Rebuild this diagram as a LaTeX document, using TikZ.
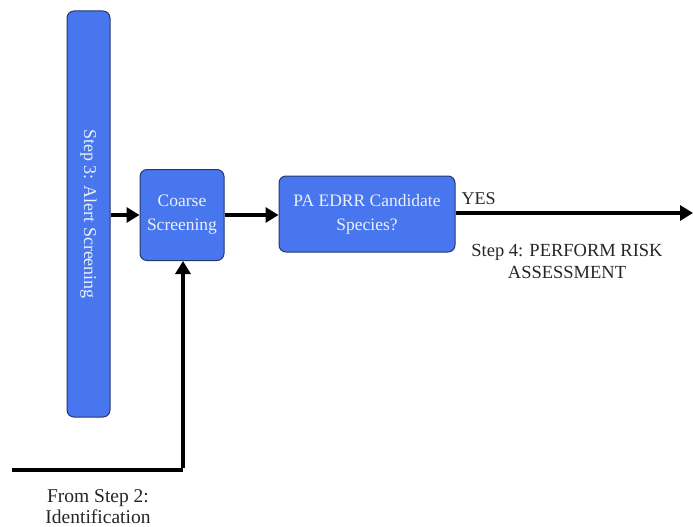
\documentclass[tikz,border=0pt]{standalone}
\usepackage{fontspec}
\setmainfont{Liberation Serif}
\usetikzlibrary{arrows.meta}
\definecolor{boxblue}{RGB}{72,118,238}
\definecolor{boxedge}{RGB}{40,55,110}
\definecolor{boxtext}{RGB}{235,240,250}
\tikzset{
  flowbox/.style={draw=boxedge, line width=1pt, fill=boxblue, rounded corners=7pt,
    text=boxtext, align=center, font=\fontsize{17.5}{24}\selectfont, inner sep=0pt},
  flowline/.style={line width=3.2pt, -{Triangle[length=13pt,width=15pt]}},
  plainline/.style={line width=3.2pt},
  lbl/.style={align=center, text=black!85}
}
\begin{document}
\begin{tikzpicture}[x=1pt,y=-1pt]
\useasboundingbox (0,0) rectangle (693,527);
% tall alert screening column
\node[flowbox, minimum width=43pt, minimum height=406pt] (alert) at (88.5,214) {};
\node[text=boxtext, rotate=-90, font=\fontsize{18}{20}\selectfont] (alerttxt) at (alert.center) {Step 3: Alert Screening};
% coarse screening and candidate decision
\node[flowbox, minimum width=84pt, minimum height=91pt] (coarse) at (182,215) {Coarse\\Screening};
\node[flowbox, minimum width=176pt, minimum height=76pt] (cand) at (367,214) {PA EDRR Candidate\\Species?};
% outgoing yes branch
\coordinate (out) at (693,213);
\draw[flowline] (alert.east |- coarse.west) -- (coarse.west);
\draw[flowline] (coarse.east) -- (coarse.east -| cand.west);
\draw[flowline] (cand.east |- out) -- (out);
\node[lbl, anchor=west, font=\fontsize{18}{21}\selectfont] (yes) at (458,199) {YES};
\node[lbl, font=\fontsize{18.5}{22}\selectfont] (step4) at (567,261) {Step 4: PERFORM RISK\\ASSESSMENT};
% incoming branch from identification
\coordinate (in) at (12,470);
\coordinate (bend) at (183,470);
\draw[plainline] (in) -- (bend);
\draw[flowline] ([yshift=1.6pt]bend) -- (coarse.south -| bend);
\node[lbl, font=\fontsize{19.5}{21}\selectfont] (from) at (98,507) {From Step 2:\\Identification};
\end{tikzpicture}
\end{document}
